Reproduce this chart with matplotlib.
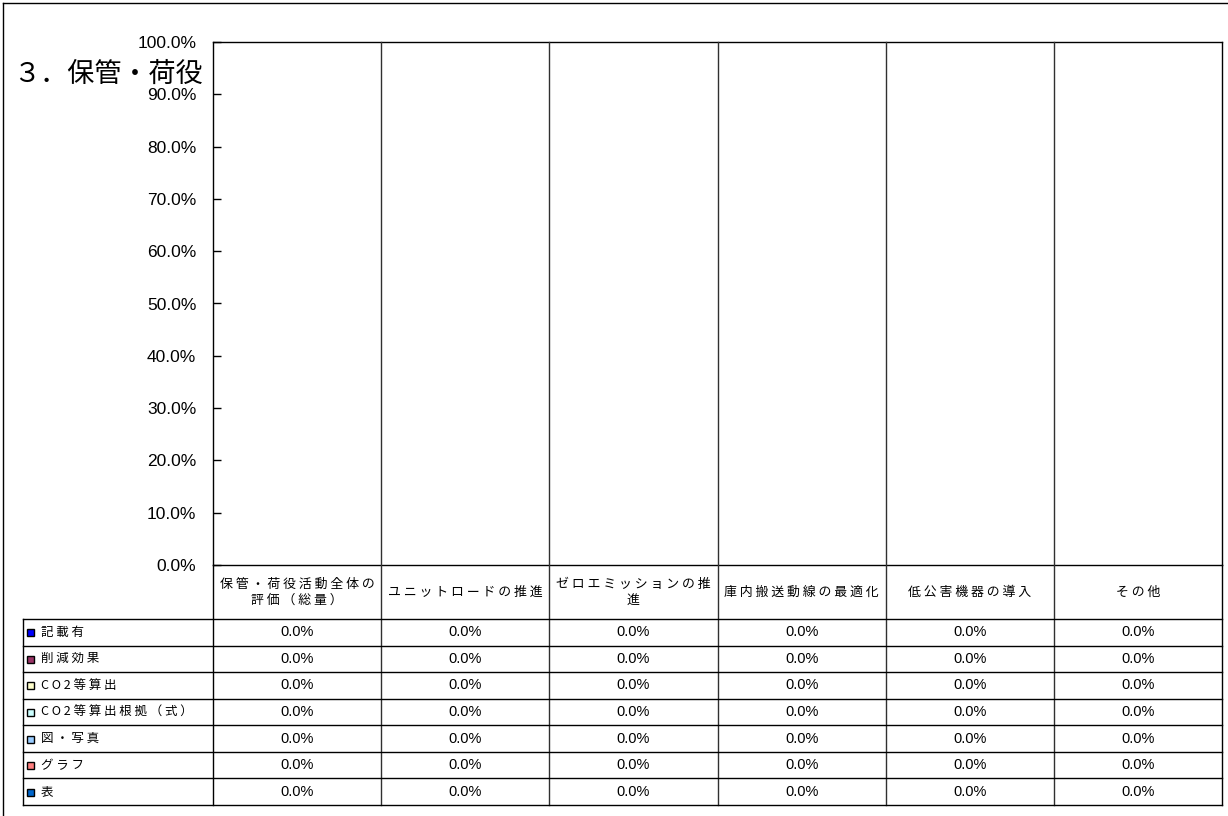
import numpy as np
import matplotlib
matplotlib.use('Agg')
import matplotlib.pyplot as plt
from matplotlib.lines import Line2D
from matplotlib.patches import Rectangle
from matplotlib import transforms

############################## Data ############################################
title = '３．保管・荷役'
categories = ['保管・荷役活動全体の\n評価（総量）', 'ユニットロードの推進',
              'ゼロエミッションの推\n進', '庫内搬送動線の最適化',
              '低公害機器の導入', 'その他']
series_names = ['記載有', '削減効果', 'CO2等算出', 'CO2等算出根拠（式）',
                '図・写真', 'グラフ', '表']
series_colors = ['#0000FF', '#993366', '#FFFFCC', '#CCFFFF',
                 '#99CCFF', '#FF8080', '#0066CC']
# percentages (all rows show 0.0%)
kisai = [0.0, 0.0, 0.0, 0.0, 0.0, 0.0]
sakugen = [0.0, 0.0, 0.0, 0.0, 0.0, 0.0]
co2 = [0.0, 0.0, 0.0, 0.0, 0.0, 0.0]
co2_shiki = [0.0, 0.0, 0.0, 0.0, 0.0, 0.0]
zu = [0.0, 0.0, 0.0, 0.0, 0.0, 0.0]
graph = [0.0, 0.0, 0.0, 0.0, 0.0, 0.0]
hyo = [0.0, 0.0, 0.0, 0.0, 0.0, 0.0]
values = [kisai, sakugen, co2, co2_shiki, zu, graph, hyo]
yticks = [0, 10, 20, 30, 40, 50, 60, 70, 80, 90, 100]

############################## Layout ##########################################
W, H = 1228, 816
JP = ['Noto Sans CJK JP', 'DejaVu Sans']
NUM = ['Liberation Sans', 'DejaVu Sans']

def fx(x):
    return x / W

def fy(y):
    return 1 - y / H

def spaced(s):
    # imitate the wide letter spacing of the original
    return '\n'.join(' '.join(list(line)) for line in s.split('\n'))

plot_l, plot_r, plot_t, plot_b = 213, 1222, 42, 565
tab_l, head_b, tab_b = 23, 619, 805
row_h = (tab_b - head_b) / len(series_names)

fig = plt.figure(figsize=(W / 100, H / 100), dpi=100)
ax = fig.add_axes([fx(plot_l), fy(plot_b), fx(plot_r - plot_l),
                   (plot_b - plot_t) / H])

n_cat = len(categories)
x = np.arange(n_cat)
bw = 0.7 / len(series_names)
for i, (vals, c) in enumerate(zip(values, series_colors)):
    ax.bar(x - 0.35 + bw * (i + 0.5), vals, bw, color=c, linewidth=0)

ax.set_xlim(-0.5, n_cat - 0.5)
ax.set_ylim(0, 100)
ax.set_yticks(yticks)
ax.set_yticklabels(['%.1f%%' % v for v in yticks], family=NUM, fontsize=12.5)
ax.tick_params(axis='y', direction='in', length=6, width=1, pad=12)
ax.set_xticks([])
for sp in ax.spines.values():
    sp.set_linewidth(1)
    sp.set_color('black')

# title sits over the axis labels, as in the original
fig.text(fx(13), fy(74), title, family=JP, fontsize=19.5, va='center', ha='left')

############################## Data table ######################################
blend = transforms.blended_transform_factory(ax.transData, fig.transFigure)
bounds = np.arange(n_cat + 1) - 0.5

# column separators, running through plot and table
for b in bounds[1:-1]:
    fig.add_artist(Line2D([b, b], [fy(plot_t), fy(tab_b)], transform=blend,
                          color='#303030', lw=1))
for b in (bounds[0], bounds[-1]):
    fig.add_artist(Line2D([b, b], [fy(plot_b), fy(tab_b)], transform=blend,
                          color='black', lw=1))
fig.add_artist(Line2D([fx(tab_l)] * 2, [fy(head_b), fy(tab_b)], color='black', lw=1))

# row lines
for r in range(len(series_names) + 1):
    yy = fy(head_b + r * row_h)
    fig.add_artist(Line2D([fx(tab_l), fx(plot_r)], [yy, yy], color='black', lw=1))

# header labels
for i, cat in enumerate(categories):
    fig.text(x[i], fy((plot_b + head_b) / 2), spaced(cat), transform=blend,
             family=JP, fontsize=9.3, ha='center', va='center', linespacing=1.3)

# rows
for r, (name, c, vals) in enumerate(zip(series_names, series_colors, values)):
    yc = head_b + (r + 0.5) * row_h
    fig.add_artist(Rectangle((fx(27), fy(yc + 4)), fx(7), 7 / H,
                             facecolor=c, edgecolor='black', lw=1))
    fig.text(fx(41), fy(yc), spaced(name), family=JP, fontsize=9,
             ha='left', va='center')
    for i, v in enumerate(vals):
        fig.text(x[i], fy(yc), '%.1f%%' % v, transform=blend, family=NUM,
                 fontsize=10.5, ha='center', va='center')

# outer chart border (left and top edges visible in the original)
fig.add_artist(Line2D([fx(3), 1.0], [fy(3), fy(3)], color='black', lw=1))
fig.add_artist(Line2D([fx(3), fx(3)], [fy(3), 0.0], color='black', lw=1))

plt.savefig('out.png', dpi=100)
